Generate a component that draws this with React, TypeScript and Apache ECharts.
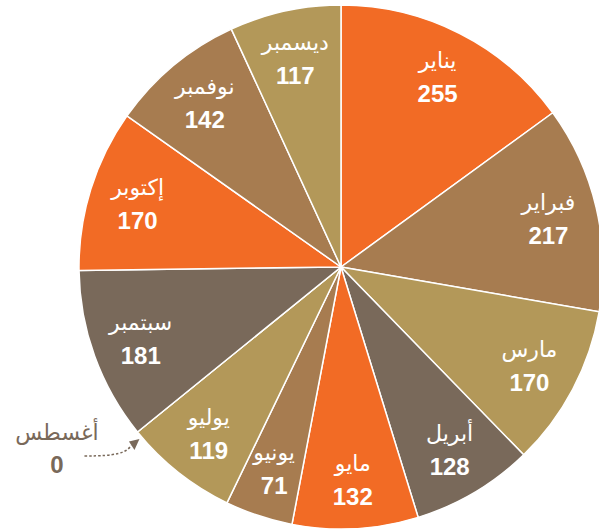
import React, { useEffect, useRef } from "react";
import * as echarts from "echarts";

const months = ["يناير", "فبراير", "مارس", "أبريل", "مايو", "يونيو", "يوليو", "أغسطس", "سبتمبر", "إكتوبر", "نوفمبر", "ديسمبر"];
const values = [255, 217, 170, 128, 132, 71, 119, 0, 181, 170, 142, 117];
const palette = ["#F26B25", "#A77C50", "#B39859", "#79695A"];
const outsideIndex = 7;

const W = 599;
const H = 530;
const CX = 341;
const CY = 267;
const R = 262;
const LABEL_R = 210;
const FONT = "'Liberation Sans', 'DejaVu Sans', Arial, sans-serif";

export default function App() {
  const ref = useRef<HTMLDivElement>(null);
  useEffect(() => {
    document.body.style.margin = "0";
    if (!ref.current) return;
    const chart = echarts.init(ref.current, null, { renderer: "svg" });
    let ci = 0;
    const data = months.map((m, i) => {
      const color = palette[ci % palette.length];
      if (values[i] > 0) ci++;
      return { name: m, value: values[i], itemStyle: { color } };
    });
    const labelData = months.map((m, i) => ({
      name: m,
      value: values[i],
      label: { show: i !== outsideIndex },
    }));

    const total = values.reduce((a, b) => a + b, 0);
    const before = values.slice(0, outsideIndex).reduce((a, b) => a + b, 0);
    const ang = (before / total) * Math.PI * 2;
    const ex = CX + R * Math.sin(ang);
    const ey = CY - R * Math.cos(ang);
    const tx = ex + 2;
    const ty = ey + 7;
    const annColor = "#79695A";

    chart.setOption({
      animation: false,
      series: [
        {
          type: "pie",
          center: [CX, CY],
          radius: [0, R],
          startAngle: 90,
          clockwise: true,
          stillShowZeroSum: true,
          silent: true,
          label: { show: false },
          labelLine: { show: false },
          itemStyle: { borderColor: "#ffffff", borderWidth: 1.5 },
          data,
        },
        {
          type: "pie",
          center: [CX, CY],
          radius: [2 * LABEL_R - R, R],
          startAngle: 90,
          clockwise: true,
          silent: true,
          itemStyle: { color: "rgba(0,0,0,0)", borderWidth: 0 },
          labelLine: { show: false },
          label: {
            show: true,
            position: "inside",
            formatter: "{n|{b}}\n{v|{c}}",
            rich: {
              n: { fontFamily: FONT, fontSize: 22, color: "#ffffff", lineHeight: 33, align: "center" },
              v: { fontFamily: FONT, fontSize: 24, fontWeight: "bold", color: "#ffffff", lineHeight: 33, align: "center" },
            },
          },
          data: labelData,
        },
      ],
      graphic: [
        {
          type: "bezierCurve",
          silent: true,
          shape: {
            x1: tx - 55, y1: ty + 17,
            cpx1: tx - 22, cpy1: ty + 17,
            cpx2: tx - 14, cpy2: ty + 14,
            x2: tx - 8, y2: ty + 6.5,
          },
          style: { stroke: annColor, lineWidth: 1.5, lineDash: [2.5, 2], fill: null },
        },
        {
          type: "polygon",
          silent: true,
          shape: { points: [[tx, ty], [tx - 10.5, ty + 2.5], [tx - 5, ty + 11]] },
          style: { fill: annColor },
        },
        {
          type: "text",
          silent: true,
          x: tx - 82.5,
          y: ty - 6,
          style: {
            text: months[outsideIndex],
            fill: annColor,
            font: `22px ${FONT}`,
            align: "center",
            verticalAlign: "middle",
          },
        },
        {
          type: "text",
          silent: true,
          x: tx - 82.5,
          y: ty + 26,
          style: {
            text: String(values[outsideIndex]),
            fill: annColor,
            font: `bold 24px ${FONT}`,
            align: "center",
            verticalAlign: "middle",
          },
        },
      ],
    });
    return () => chart.dispose();
  }, []);
  return <div ref={ref} style={{ width: W, height: H }} />;
}
